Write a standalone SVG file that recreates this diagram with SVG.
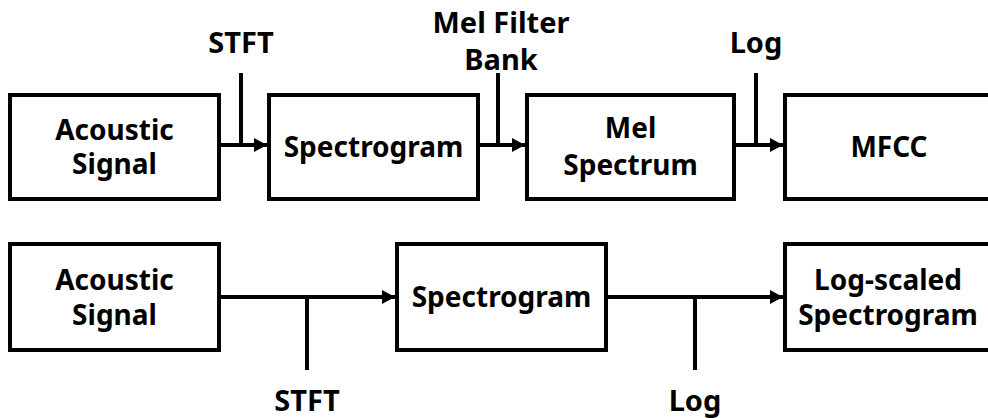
<svg xmlns="http://www.w3.org/2000/svg" width="988" height="418" viewBox="0 0 988 418">
<style>
.box{fill:#fff;stroke:#000;stroke-width:4}
.t{font-family:"Noto Sans","Open Sans","DejaVu Sans",sans-serif;font-weight:bold;font-size:28px;fill:#000;text-anchor:middle}
.l{font-family:"Noto Sans","Open Sans","DejaVu Sans",sans-serif;font-weight:bold;font-size:29px;fill:#000;text-anchor:middle}
.c{fill:none;stroke:#000;stroke-width:4}
</style>
<defs>
<marker id="ah" markerUnits="userSpaceOnUse" markerWidth="14" markerHeight="16" refX="13" refY="8" orient="auto">
<path d="M0,1 L13,8 L0,15 z" fill="#000"/>
</marker>
</defs>
<rect width="988" height="418" fill="#fff"/>
<g id="connectors">
<line class="c" x1="221" y1="145" x2="267" y2="145" marker-end="url(#ah)"/>
<line class="c" x1="241" y1="73" x2="241" y2="145"/>
<line class="c" x1="480" y1="145" x2="525" y2="145" marker-end="url(#ah)"/>
<line class="c" x1="498" y1="73" x2="498" y2="145"/>
<line class="c" x1="736" y1="145" x2="783" y2="145" marker-end="url(#ah)"/>
<line class="c" x1="756" y1="73" x2="756" y2="145"/>
<line class="c" x1="221" y1="297" x2="395" y2="297" marker-end="url(#ah)"/>
<line class="c" x1="307" y1="297" x2="307" y2="370"/>
<line class="c" x1="608" y1="297" x2="783" y2="297" marker-end="url(#ah)"/>
<line class="c" x1="695" y1="297" x2="695" y2="370"/>
<text class="l" x="241" y="53">STFT</text>
<text class="l" x="501" y="33">Mel Filter</text>
<text class="l" x="501" y="70">Bank</text>
<text class="l" x="756" y="53">Log</text>
<text class="l" x="307" y="411">STFT</text>
<text class="l" x="695" y="411">Log</text>
</g>
<g id="acoustic1">
<rect class="box" x="10" y="95" width="209" height="104"/>
<text class="t" x="114.5" y="140">Acoustic</text>
<text class="t" x="114.5" y="174">Signal</text>
</g>
<g id="spectrogram1">
<rect class="box" x="269" y="95" width="209" height="104"/>
<text class="t" x="373.5" y="157">Spectrogram</text>
</g>
<g id="melspectrum">
<rect class="box" x="527" y="95" width="207" height="104"/>
<text class="t" x="630.5" y="138">Mel</text>
<text class="t" x="630.5" y="175">Spectrum</text>
</g>
<g id="mfcc">
<rect class="box" x="785" y="95" width="209" height="104"/>
<text class="t" x="889" y="157">MFCC</text>
</g>
<g id="acoustic2">
<rect class="box" x="10" y="244" width="209" height="106"/>
<text class="t" x="114.5" y="290">Acoustic</text>
<text class="t" x="114.5" y="325">Signal</text>
</g>
<g id="spectrogram2">
<rect class="box" x="397" y="244" width="209" height="106"/>
<text class="t" x="501.5" y="307">Spectrogram</text>
</g>
<g id="logscaled">
<rect class="box" x="785" y="244" width="209" height="106"/>
<text class="t" x="888" y="290">Log-scaled</text>
<text class="t" x="888" y="325">Spectrogram</text>
</g>
</svg>
